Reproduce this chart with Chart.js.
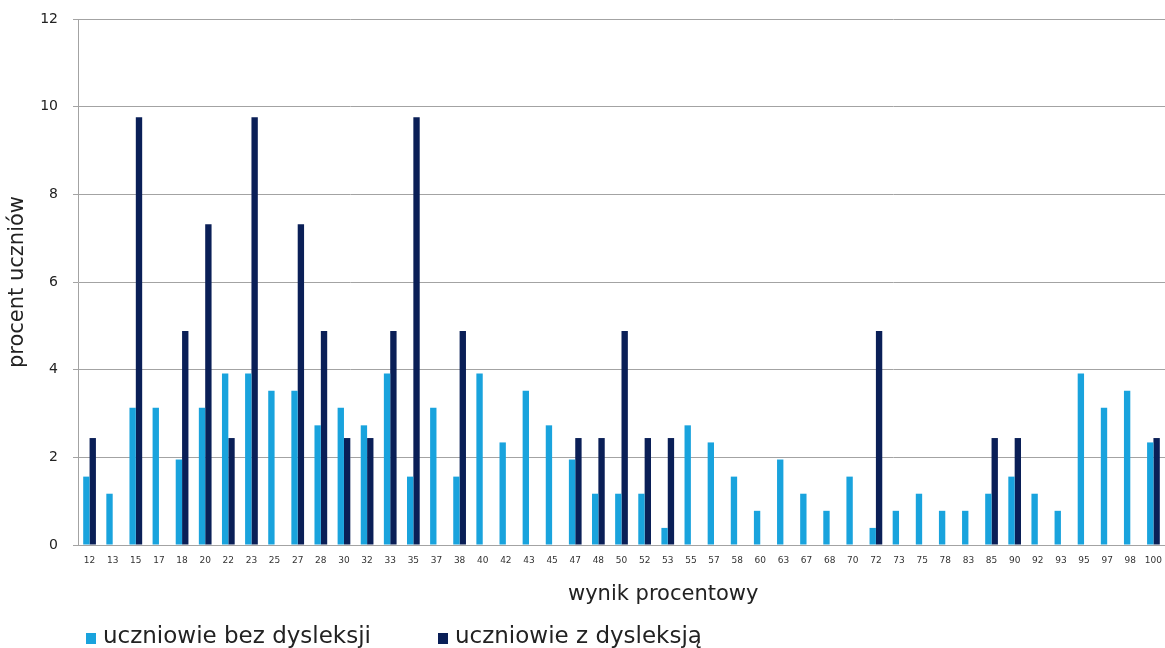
<!DOCTYPE html>
<html lang="pl">

<head>
    <meta charset="UTF-8">
    <title>Wynik procentowy</title>
    <script src="https://cdn.jsdelivr.net/npm/chart.js"></script>
    <style>
        body {
            margin: 0;
            background: #fff;
            font-family: "DejaVu Sans", sans-serif;
            color: #222;
        }

        #wrap {
            position: relative;
            width: 1165px;
            height: 648px;
            overflow: hidden;
        }

        #xTitle {
            position: absolute;
            left: 568px;
            top: 583px;
            font-size: 21px;
            line-height: 21px;
            white-space: nowrap;
        }

        #legend {
            position: absolute;
            left: 86px;
            top: 624px;
            font-size: 23px;
            line-height: 23px;
            white-space: nowrap;
        }

        .item {
            position: absolute;
            top: 0;
        }

        .box {
            display: inline-block;
            width: 10px;
            height: 11px;
            margin-right: 7px;
            vertical-align: -1px;
        }
    </style>
</head>

<body>
    <div id="wrap">
        <canvas id="chart" width="1165" height="648"></canvas>
        <div id="xTitle">wynik procentowy</div>
        <div id="legend"></div>
    </div>

    <script>
        const wyniki = ['12', '13', '15', '17', '18', '20', '22', '23', '25', '27', '28', '30', '32', '33', '35', '37',
            '38', '40', '42', '43', '45', '47', '48', '50', '52', '53', '55', '57', '58', '60', '63', '67', '68', '70',
            '72', '73', '75', '78', '83', '85', '90', '92', '93', '95', '97', '98', '100'];

        const bezDysleksji = [1.56, 1.17, 3.13, 3.13, 1.95, 3.13, 3.91, 3.91, 3.52, 3.52, 2.73, 3.13, 2.73, 3.91, 1.56, 3.13,
            1.56, 3.91, 2.34, 3.52, 2.73, 1.95, 1.17, 1.17, 1.17, 0.39, 2.73, 2.34, 1.56, 0.78, 1.95, 1.17, 0.78, 1.56,
            0.39, 0.78, 1.17, 0.78, 0.78, 1.17, 1.56, 1.17, 0.78, 3.91, 3.13, 3.52, 2.34];

        const zDysleksja = [2.44, null, 9.76, null, 4.88, 7.32, 2.44, 9.76, null, 7.32, 4.88, 2.44, 2.44, 4.88, 9.76, null,
            4.88, null, null, null, null, 2.44, 2.44, 4.88, 2.44, 2.44, null, null, null, null, null, null, null, null,
            4.88, null, null, null, null, 2.44, 2.44, null, null, null, null, null, 2.44];

        const osY = [0, 2, 4, 6, 8, 10, 12];

        const gridColor = '#a3a3a3';
        const font = 'DejaVu Sans';

        const chart = new Chart(document.getElementById('chart'), {
            type: 'bar',
            data: {
                labels: wyniki,
                datasets: [{
                    label: 'uczniowie bez dysleksji',
                    data: bezDysleksji,
                    backgroundColor: '#19a3dd'
                }, {
                    label: 'uczniowie z dysleksją',
                    data: zDysleksja,
                    backgroundColor: '#0a1f57'
                }]
            },
            options: {
                responsive: false,
                animation: false,
                categoryPercentage: 0.55,
                barPercentage: 1.0,
                layout: {
                    padding: { top: 19, right: 0, bottom: 0, left: 0 }
                },
                plugins: {
                    legend: { display: false },
                    tooltip: { enabled: false }
                },
                scales: {
                    x: {
                        afterFit: s => { s.height = 103; },
                        grid: { drawOnChartArea: false, tickLength: 10, tickColor: 'rgba(0,0,0,0)' },
                        border: { color: gridColor },
                        ticks: {
                            color: '#333',
                            font: { family: font, size: 9 },
                            padding: 0,
                            maxRotation: 0,
                            autoSkip: false
                        }
                    },
                    y: {
                        min: 0,
                        max: 12,
                        afterFit: s => {
                            s.width = 78;
                            s.paddingTop = 0;
                            s.paddingBottom = 0;
                        },
                        afterBuildTicks: s => { s.ticks = osY.map(v => ({ value: v })); },
                        grid: { color: gridColor, tickLength: 5 },
                        border: { color: gridColor },
                        ticks: {
                            color: '#222',
                            font: { family: font, size: 14 },
                            padding: 15
                        },
                        title: {
                            display: true,
                            text: 'procent uczniów',
                            color: '#222',
                            font: { family: font, size: 21 },
                            padding: { top: 5, bottom: 10 }
                        }
                    }
                }
            }
        });

        // legenda pod wykresem
        const legend = document.getElementById('legend');
        const offsets = [0, 352];
        chart.data.datasets.forEach((ds, i) => {
            const item = document.createElement('span');
            item.className = 'item';
            item.style.left = offsets[i] + 'px';
            item.innerHTML = `<span class="box" style="background:${ds.backgroundColor}"></span>${ds.label}`;
            legend.appendChild(item);
        });
    </script>
</body>

</html>
